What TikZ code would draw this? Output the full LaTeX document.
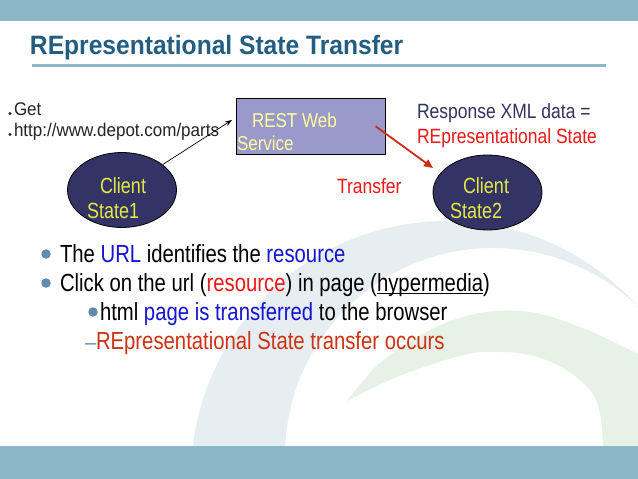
\documentclass[tikz,border=0pt]{standalone}
\usepackage{graphicx}
\usepackage{fontspec}
\setmainfont{Liberation Sans}
\usetikzlibrary{arrows.meta,shapes.geometric}
\definecolor{barblue}{RGB}{141,182,200}
\definecolor{titleblue}{RGB}{35,94,130}
\definecolor{swirlblue}{RGB}{231,238,242}
\definecolor{swirlgreen}{RGB}{231,242,230}
\definecolor{boxfill}{RGB}{153,153,204}
\definecolor{boxtext}{RGB}{255,255,153}
\definecolor{navy}{RGB}{51,51,102}
\definecolor{clienttext}{RGB}{228,232,70}
\definecolor{bulletblue}{RGB}{95,140,172}
\definecolor{linkblue}{RGB}{20,20,210}
\definecolor{brightred}{RGB}{235,25,25}
\definecolor{orangered}{RGB}{205,50,20}
\definecolor{arrowred}{RGB}{205,45,20}
\definecolor{txtgray}{RGB}{35,35,35}
\definecolor{respnavy}{RGB}{50,50,95}
\newcommand{\vstretch}[2]{\scalebox{1}[#1]{#2}}
\newcommand{\myul}[1]{\setbox0\hbox{#1}\rlap{\rule[-2.2pt]{\wd0}{0.9pt}}\box0}
\tikzset{
  txt/.style={anchor=base west, inner sep=0, outer sep=0},
  small/.style={txt, font=\fontsize{17}{20}\selectfont, text=txtgray},
  mid/.style={txt, font=\fontsize{17.5}{20}\selectfont},
  big/.style={txt, font=\fontsize{20.3}{24}\selectfont, text=black},
  client/.style={ellipse, draw=black, line width=0.8pt, fill=navy, minimum width=109pt, minimum height=75pt, inner sep=0},
  clienttxt/.style={txt, font=\fontsize{18}{21}\selectfont, text=clienttext},
  resttxt/.style={txt, font=\fontsize{17}{20}\selectfont, text=boxtext},
  dot/.style={circle, fill=bulletblue, inner sep=0, minimum size=9.5pt},
  tinydot/.style={circle, fill=txtgray, inner sep=0, minimum size=3.4pt},
}
\begin{document}
\begin{tikzpicture}[x=1pt,y=-1pt]
\useasboundingbox (0,0) rectangle (638,479);
\fill[white] (0,0) rectangle (638,479);
% background swirls
\begin{scope}
  \clip (0,21) rectangle (638,446);
  \begin{scope}
    \clip (447,477) circle[radius=256pt];
    \fill[swirlblue, even odd rule] (447,477) circle[radius=256pt] (493,456) circle[radius=208pt];
  \end{scope}
  \fill[swirlgreen] plot[smooth, tension=0.6] coordinates {(347,401) (380,363) (430,330) (480,313) (530,312) (580,327) (630,350) (660,366)}
    -- (660,446) -- (603,446)
    -- plot[smooth, tension=0.6] coordinates {(603,446) (600,413) (590,390) (563,368) (530,355) (497,352) (463,355) (397,377) (347,401)} -- cycle;
\end{scope}
% bars
\fill[barblue] (0,0) rectangle (638,21);
\fill[barblue] (0,446) rectangle (638,479);
% title
\node[txt, font=\fontsize{24.6}{28}\selectfont\bfseries, text=titleblue] (title) at (30,54) {\vstretch{1.08}{REpresentational State Transfer}};
\draw[barblue, line width=3pt] (32,65) -- (606,65);
% left request text
\node[tinydot] (d1) at (10,113.5) {};
\node[small] (get) at (14,115) {\vstretch{1.08}{Get}};
\node[tinydot] (d2) at (10,134.5) {};
\node[small] (url) at (14,136) {\vstretch{1.08}{http://www.depot.com/parts}};
% REST box
\node[draw=black, line width=0.6pt, fill=boxfill, minimum width=149pt, minimum height=56pt, inner sep=0, anchor=north west] (rest) at (236,98) {};
\node[resttxt] (restA) at (252,127) {\vstretch{1.18}{REST Web}};
\node[resttxt] (restB) at (237,150) {\vstretch{1.18}{Service}};
% clients
\node[client] (cs1) at (122,190) {};
\node[clienttxt] (cs1a) at (100,193) {\vstretch{1.22}{Client}};
\node[clienttxt] (cs1b) at (87,218) {\vstretch{1.22}{State1}};
\node[client] (cs2) at (487.5,192.5) {};
\node[clienttxt] (cs2a) at (463,193) {\vstretch{1.22}{Client}};
\node[clienttxt] (cs2b) at (450,218) {\vstretch{1.22}{State2}};
% arrows
\coordinate (tip1) at (232,120);
\draw[line width=0.7pt, -{Stealth[length=7pt,width=5pt]}] (cs1.32) -- (tip1);
\coordinate (tip2) at (433,168);
\draw[arrowred, line width=1.8pt, -{Triangle[length=9pt,width=8pt]}] ([xshift=-10pt]rest.east) -- (tip2);
% right labels
\node[mid, text=respnavy] (resp) at (417,118) {\vstretch{1.18}{Response XML data =}};
\node[mid, text=brightred] (repst) at (417,143) {\vstretch{1.18}{REpresentational State}};
\node[mid, text=brightred] (transfer) at (337,193) {\vstretch{1.18}{Transfer}};
% bullets
\node[dot] (b1) at (46,254) {};
\node[big] (l1) at (60,262) {\vstretch{1.22}{The \textcolor{linkblue}{URL} identifies the \textcolor{linkblue}{resource}}};
\node[dot] (b2) at (46,283) {};
\node[big] (l2) at (60,291) {\vstretch{1.22}{Click on the url (\textcolor{brightred}{resource}) in page (\myul{hypermedia})}};
\node[dot] (b3) at (93,312) {};
\node[big] (l3) at (100,320.5) {\vstretch{1.22}{html \textcolor{linkblue}{page is transferred} to the browser}};
\node[big, text=bulletblue] (dash) at (85,349) {–};
\node[big, text=orangered] (l4) at (96,349) {\vstretch{1.22}{REpresentational State transfer occurs}};
\end{tikzpicture}
\end{document}
